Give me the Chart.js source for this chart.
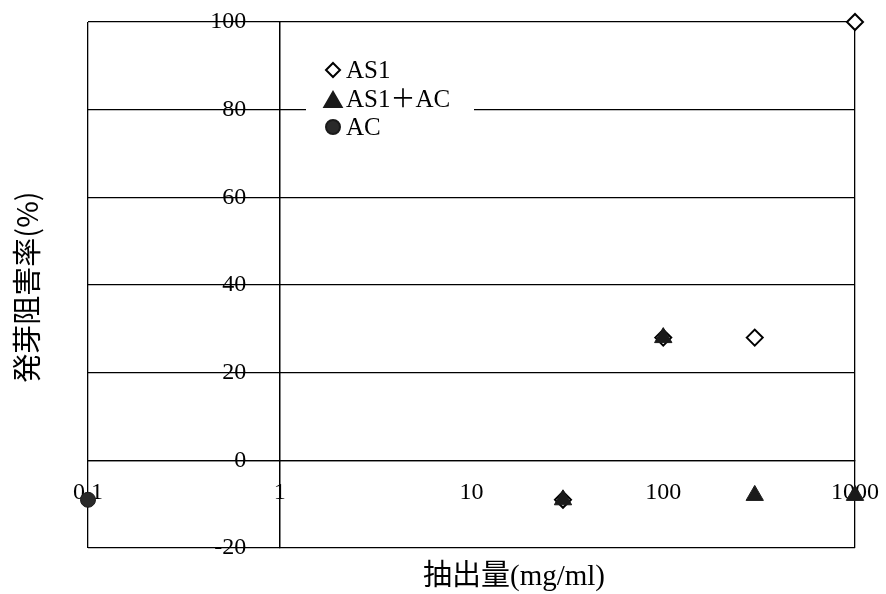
<!DOCTYPE html>
<html>
<head>
<meta charset="utf-8">
<script src="https://cdn.jsdelivr.net/npm/chart.js@4.4.1/dist/chart.umd.min.js"></script>
<style>
  html, body { margin: 0; padding: 0; background: #fff; }
  #wrap { width: 886px; height: 594px; position: relative; }
</style>
</head>
<body>
<div id="wrap"><canvas id="chart"></canvas></div>
<script>
// extract amount (mg/ml) vs. germination inhibition (%)
const as1Dose = [30, 100, 300, 1000];
const as1Rate = [-9, 28, 28, 100];
const mixDose = [30, 100, 300, 1000];
const mixRate = [-9, 28, -8, -8];
const acDose = [0.1];
const acRate = [-9];
const seriesNames = ['AS1', 'AS1＋AC', 'AC'];
const xTicks = [0.1, 1, 10, 100, 1000];
const yTicks = [-20, 0, 20, 40, 60, 80, 100];
const xTitle = '抽出量(mg/ml)';
const yTitle = '発芽阻害率(%)';

const serif = '"Liberation Serif", "Noto Sans CJK JP", serif';

function toPoints(xs, ys) {
    return xs.map((x, i) => ({ x: x, y: ys[i] }));
}

// little marker painter for the hand-placed legend
function drawMarker(ctx, style, x, y, r, fill, stroke) {
    ctx.save();
    ctx.fillStyle = fill;
    ctx.strokeStyle = stroke;
    ctx.lineWidth = 2;
    ctx.beginPath();
    if (style === 'rectRot') {
        ctx.moveTo(x, y - r);
        ctx.lineTo(x + r, y);
        ctx.lineTo(x, y + r);
        ctx.lineTo(x - r, y);
        ctx.closePath();
    } else if (style === 'triangle') {
        ctx.moveTo(x, y - r);
        ctx.lineTo(x + r * 0.866, y + r * 0.5);
        ctx.lineTo(x - r * 0.866, y + r * 0.5);
        ctx.closePath();
    } else {
        ctx.arc(x, y, r, 0, Math.PI * 2);
    }
    ctx.fill();
    ctx.stroke();
    ctx.restore();
}

const legendBox = {
    id: 'legendBox',
    afterDatasetsDraw(chart) {
        const ctx = chart.ctx;
        ctx.save();
        ctx.fillStyle = '#fff';
        ctx.fillRect(306, 52, 168, 92);
        ctx.font = '25px ' + serif;
        ctx.fillStyle = '#000';
        ctx.textBaseline = 'middle';
        const rows = [70, 99, 127];
        // legend order follows the reference, not the drawing order
        const legendSets = [chart.data.datasets[1], chart.data.datasets[0], chart.data.datasets[2]];
        legendSets.forEach((ds, i) => {
            const tri = ds.pointStyle === 'triangle';
            drawMarker(ctx, ds.pointStyle, 333, rows[i] + (tri ? 3 : 0), tri ? 10 : 7,
                ds.pointBackgroundColor, ds.pointBorderColor);
            ctx.fillText(seriesNames[i], 346, rows[i] + 1);
        });
        ctx.restore();
    }
};

const axisTitles = {
    id: 'axisTitles',
    afterDraw(chart) {
        const ctx = chart.ctx;
        ctx.save();
        ctx.fillStyle = '#000';
        ctx.textAlign = 'center';
        ctx.textBaseline = 'middle';
        ctx.font = '29px ' + serif;
        ctx.fillText(xTitle, 514, 577);
        ctx.translate(27, 287);
        ctx.rotate(-Math.PI / 2);
        ctx.font = '29px "Noto Sans CJK JP", sans-serif';
        ctx.fillText(yTitle, 0, 0);
        ctx.restore();
    }
};

new Chart(document.getElementById('chart'), {
    type: 'scatter',
    data: {
        datasets: [
            {
                label: seriesNames[1],
                data: toPoints(mixDose, mixRate),
                pointStyle: 'triangle',
                pointRadius: 10,
                pointBackgroundColor: '#1a1a1a',
                pointBorderColor: '#1a1a1a',
                pointBorderWidth: 1,
                clip: false
            },
            {
                label: seriesNames[0],
                data: toPoints(as1Dose, as1Rate),
                pointStyle: 'rectRot',
                pointRadius: 8,
                pointBackgroundColor: '#fff',
                pointBorderColor: '#000',
                pointBorderWidth: 2,
                clip: false
            },
            {
                label: seriesNames[2],
                data: toPoints(acDose, acRate),
                pointStyle: 'circle',
                pointRadius: 7.5,
                pointBackgroundColor: '#2a2a2a',
                pointBorderColor: '#1a1a1a',
                pointBorderWidth: 1,
                clip: false
            }
        ]
    },
    options: {
        responsive: true,
        maintainAspectRatio: false,
        animation: false,
        layout: { padding: { left: 88, top: 22, right: 31, bottom: 46 } },
        plugins: {
            legend: { display: false },
            tooltip: { enabled: false }
        },
        scales: {
            x: {
                type: 'logarithmic',
                min: 0.1,
                max: 1000,
                position: { y: 0 },
                afterBuildTicks: (scale) => {
                    scale.ticks = xTicks.map(v => ({ value: v }));
                },
                // the end labels may hang past the frame, as in the original
                afterFit: (scale) => {
                    scale.paddingLeft = 0;
                    scale.paddingRight = 0;
                },
                ticks: {
                    autoSkip: false,
                    maxRotation: 0,
                    padding: 18,
                    color: '#000',
                    font: { family: serif, size: 24 },
                    callback: (v) => String(v)
                },
                grid: {
                    drawTicks: false,
                    // only the plot frame and the y axis are ruled vertically
                    color: (ctx) => (ctx.tick && [0.1, 1, 1000].includes(ctx.tick.value)) ? '#000' : 'rgba(0,0,0,0)',
                    lineWidth: 1.3
                },
                border: { display: true, color: '#000', width: 1.3 }
            },
            y: {
                min: -20,
                max: 100,
                position: { x: 1 },
                afterBuildTicks: (scale) => {
                    scale.ticks = yTicks.map(v => ({ value: v }));
                },
                ticks: {
                    color: '#000',
                    font: { family: serif, size: 24 },
                    callback: (v) => v + '\u2002\u2002\u2009\u2009'
                },
                grid: {
                    drawTicks: false,
                    color: '#000',
                    lineWidth: 1.3
                },
                border: { display: true, color: '#000', width: 1.3 }
            }
        }
    },
    plugins: [legendBox, axisTitles]
});
</script>
</body>
</html>
